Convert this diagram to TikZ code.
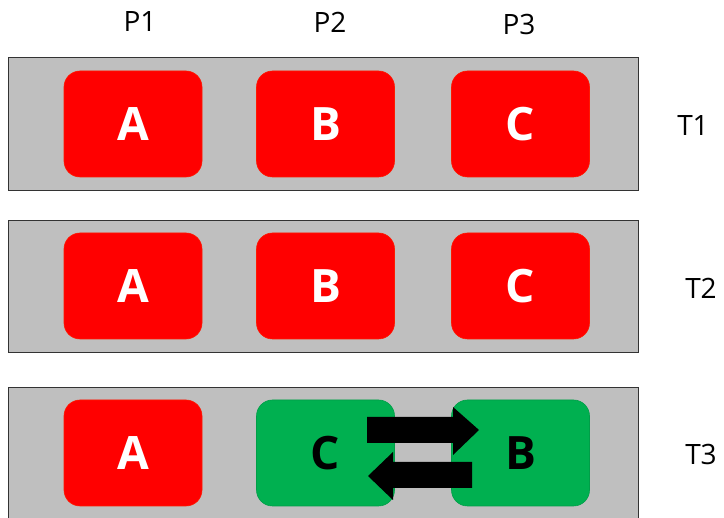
\documentclass[tikz,border=0pt]{standalone}
\usepackage{fontspec}
\setmainfont{Open Sans}
\definecolor{barGray}{HTML}{BFBFBF}
\definecolor{boxRed}{HTML}{FF0000}
\definecolor{boxGreen}{HTML}{00B050}
\begin{document}
\begin{tikzpicture}[x=1pt,y=-1pt,
  bar/.style={draw=black!80, line width=0.8pt, fill=barGray},
  redbox/.style={fill=boxRed, draw=red!80!orange, line width=0.6pt, rounded corners=16pt, minimum width=138pt, minimum height=106pt, inner sep=0pt, text=white, font=\bfseries\fontsize{46}{50}\selectfont},
  greenbox/.style={fill=boxGreen, draw=boxGreen!90!black, line width=0.6pt, rounded corners=16pt, minimum width=138pt, minimum height=106pt, inner sep=0pt, text=black, font=\bfseries\fontsize{46}{50}\selectfont},
  lbl/.style={font=\fontsize{28}{32}\selectfont, text=black, inner sep=0pt},
  bigarrow/.style={fill=black}
]
\useasboundingbox (0,0) rectangle (724,518);
\clip (0,0) rectangle (724,518);
\fill[white] (0,0) rectangle (724,518);

% column labels
\node[lbl] (p1) at (140,22) {P1};
\node[lbl] (p2) at (330,22) {P2};
\node[lbl] (p3) at (519,25) {P3};

% row bars
\draw[bar] (8,57) rectangle (638,190);
\draw[bar] (8,220) rectangle (638,352);
\draw[bar] (8,387) rectangle (638,530);

% row labels
\node[lbl] (t1) at (693,126) {T1};
\node[lbl] (t2) at (701,288) {T2};
\node[lbl] (t3) at (701,455) {T3};

% row 1
\node[redbox] (a1) at (133,124) {A};
\node[redbox] (b1) at (325.5,124) {B};
\node[redbox] (c1) at (520.5,124) {C};
% row 2
\node[redbox] (a2) at (133,286) {A};
\node[redbox] (b2) at (325.5,286) {B};
\node[redbox] (c2) at (520.5,286) {C};
% row 3
\node[redbox] (a3) at (133,453) {A};
\node[greenbox] (c3) at (325.5,453) {C};
\node[greenbox] (b3) at (520.5,453) {B};

% swap arrows
\fill[bigarrow] (367,417) -- (453,417) -- (453,407) -- (479,430) -- (453,455) -- (453,443) -- (367,443) -- cycle;
\fill[bigarrow] (472,462) -- (393,462) -- (393,452) -- (368,476) -- (393,500) -- (393,488) -- (472,488) -- cycle;
\end{tikzpicture}
\end{document}
